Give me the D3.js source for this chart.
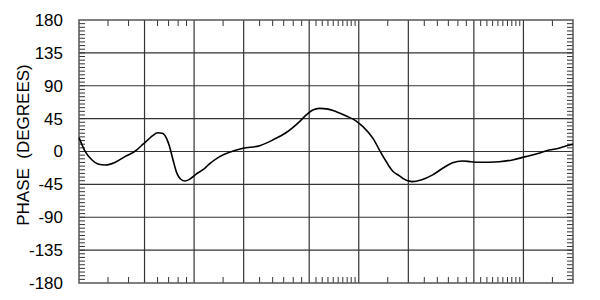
<!DOCTYPE html>
<html>
<head>
<meta charset="utf-8">
<script src="https://cdn.jsdelivr.net/npm/d3@7"></script>
<style>
  body { margin: 0; background: #fff; }
  svg { display: block; font-family: "Liberation Sans", Arial, sans-serif; }
</style>
</head>
<body>
<div id="chart"></div>
<script>
// frequency (Hz) and phase (degrees)
const freqs = [20, 21.7, 24, 26, 29, 33, 38, 44, 49, 53, 56, 60, 64, 68, 71, 74.5, 78, 83, 88, 94,
    103, 116, 124, 143, 164, 198, 250, 300, 363, 437, 480, 526, 577, 650, 730, 840, 965,
    1060, 1220, 1370, 1470, 1535, 1610, 1760, 1850, 2120, 2390, 2810, 3230, 3710, 4260, 4800,
    5380, 7130, 8580, 10300, 12400, 14300, 16400, 18100, 20000];
const phase = [19, 1, -11.6, -17, -18.5, -15, -7, 0.7, 10, 17, 21.6, 25.7, 25, 18, 6.6, -11.6, -27.6, -38, -40.4, -38,
    -31, -23, -17, -7, -1, 4.4, 8, 15.7, 26, 41, 50, 56.8, 59, 58, 54.5, 48.6, 41.7,
    34, 18, -2.5, -14, -20.8, -27, -33, -36.7, -41.3, -39, -32, -23, -15.3, -13, -14,
    -14.8, -14, -11.6, -7, -2.5, 2, 4.4, 7.5, 10];

const xGrid = [50, 100, 200, 500, 1000, 2000, 5000, 10000];
const xMinor = [30, 40, 60, 70, 80, 90, 150, 250, 300, 350, 400, 450,
    550, 600, 650, 700, 750, 800, 850, 900, 950, 1500, 2500, 3000, 3500, 4000, 4500,
    5500, 6000, 6500, 7000, 7500, 8000, 8500, 9000, 9500, 15000];
const yTicks = [-180, -135, -90, -45, 0, 45, 90, 135, 180];
const yMinor = d3.range(-175, 180, 5);

const width = 600, height = 300,
    margin = { top: 20, right: 27, bottom: 17, left: 79 };
const w = width - margin.left - margin.right,
    h = height - margin.top - margin.bottom;

const svg = d3.select("#chart").append("svg")
    .attr("width", width)
    .attr("height", height);

const g = svg.append("g")
    .attr("transform", `translate(${margin.left},${margin.top})`);

const x = d3.scaleLog().domain([20, 20000]).range([0, w]);
const y = d3.scaleLinear().domain([-180, 180]).range([h, 0]);

const gridColor = "#333";

// grid
g.selectAll(".vgrid").data(xGrid).enter().append("line")
    .attr("x1", d => x(d)).attr("x2", d => x(d))
    .attr("y1", 0).attr("y2", h)
    .attr("stroke", gridColor).attr("stroke-width", 1.2);

g.selectAll(".hgrid").data(yTicks.slice(1, -1)).enter().append("line")
    .attr("x1", 0).attr("x2", w)
    .attr("y1", d => y(d)).attr("y2", d => y(d))
    .attr("stroke", gridColor).attr("stroke-width", 1.2);

// minor ticks, inward on all four sides
const tickLen = 6;
g.selectAll(".xtop").data(xMinor).enter().append("line")
    .attr("x1", d => x(d)).attr("x2", d => x(d))
    .attr("y1", 0).attr("y2", tickLen)
    .attr("stroke", gridColor).attr("stroke-width", 1);
g.selectAll(".xbot").data(xMinor).enter().append("line")
    .attr("x1", d => x(d)).attr("x2", d => x(d))
    .attr("y1", h).attr("y2", h - tickLen)
    .attr("stroke", gridColor).attr("stroke-width", 1);
g.selectAll(".yleft").data(yMinor).enter().append("line")
    .attr("x1", 0).attr("x2", tickLen)
    .attr("y1", d => y(d)).attr("y2", d => y(d))
    .attr("stroke", gridColor).attr("stroke-width", 1);
g.selectAll(".yright").data(yMinor).enter().append("line")
    .attr("x1", w).attr("x2", w - tickLen)
    .attr("y1", d => y(d)).attr("y2", d => y(d))
    .attr("stroke", gridColor).attr("stroke-width", 1);

// frame
g.append("rect")
    .attr("width", w).attr("height", h)
    .attr("fill", "none")
    .attr("stroke", "#555").attr("stroke-width", 1.5);

// y labels (plain hyphen for negatives, as in the original)
const yAxis = d3.axisLeft(y).tickValues(yTicks).tickSize(0).tickPadding(16)
    .tickFormat(d => String(d));
g.append("g").call(yAxis)
    .call(s => s.select(".domain").remove())
    .selectAll("text")
    .attr("font-size", 17)
    .attr("font-family", "Liberation Sans, Arial, sans-serif")
    .attr("fill", "#000");

// y title
svg.append("text")
    .attr("transform", `translate(29,145) rotate(-90)`)
    .attr("text-anchor", "middle")
    .attr("font-size", 17)
    .attr("fill", "#000")
    .attr("xml:space", "preserve")
    .style("white-space", "pre")
    .text("PHASE  (DEGREES)");

// phase curve
const line = d3.line()
    .x((d, i) => x(freqs[i]))
    .y(d => y(d))
    .curve(d3.curveMonotoneX);

g.append("path")
    .datum(phase)
    .attr("d", line)
    .attr("fill", "none")
    .attr("stroke", "#000")
    .attr("stroke-width", 1.6);
</script>
</body>
</html>
